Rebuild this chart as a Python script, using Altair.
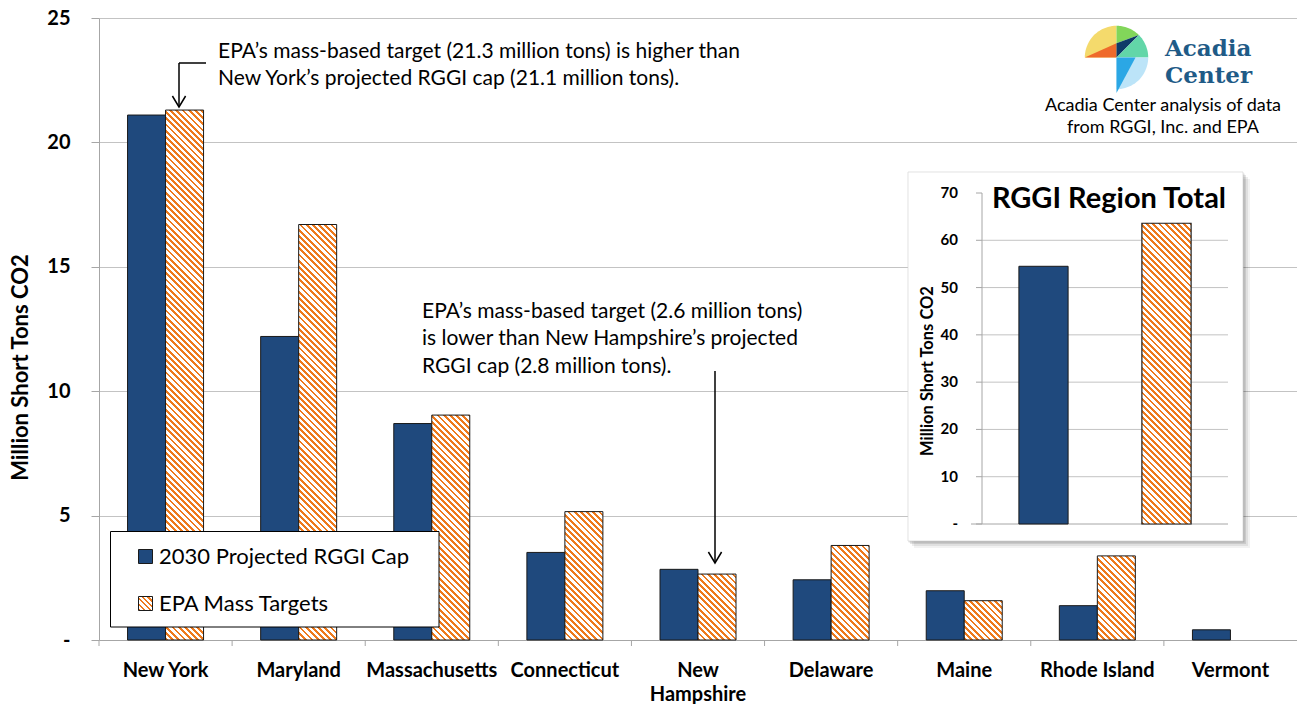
import altair as alt
import numpy as np
import pandas as pd

# ------------------------------------------------------------------ data
states = ["New York", "Maryland", "Massachusetts", "Connecticut", "New Hampshire",
          "Delaware", "Maine", "Rhode Island", "Vermont"]
cap_2030 = [21.1, 12.2, 8.7, 3.52, 2.84, 2.42, 1.98, 1.38, 0.41]
epa_mass = [21.3, 16.7, 9.04, 5.16, 2.65, 3.8, 1.58, 3.38, 0.0]
series = ["2030 Projected RGGI Cap", "EPA Mass Targets"]
region_total = [54.5, 63.6]
main_ticks = [0, 5, 10, 15, 20, 25]
inset_ticks = [0, 10, 20, 30, 40, 50, 60, 70]
inset_labels = ["-", "10", "20", "30", "40", "50", "60", "70"]
ann_ny = ["EPA\u2019s mass-based target (21.3 million tons) is higher than",
          "New York\u2019s projected RGGI cap (21.1 million tons)."]
ann_nh = ["EPA\u2019s mass-based target (2.6 million tons)",
          "is lower than New  Hampshire\u2019s projected",
          "RGGI cap (2.8 million tons)."]
inset_title = "RGGI Region Total"
y_title = "Million Short Tons CO2"
logo_words = ["Acadia", "Center"]
source_lines = ["Acadia Center analysis of data", "from RGGI, Inc. and EPA"]
logo_colors = ["#F4DA6C", "#EF6A2B", "#82D65A", "#0F3A68", "#62D6A8", "#BCE4F8", "#2BA7E5"]

# ------------------------------------------------------------------ layout / style
W, H = 1198, 622
PPU = H / 25.0
BAR_W = 38.0
STEP = W / len(states)
OFF_PAD = (STEP / BAR_W - 2) / 2
FONT = "Lato"
BLUE = "#1F497D"
ORANGE = "#EE7A1C"
GRID = "#C3C3C3"
AXISC = "#A6A6A6"
EDGE = "#1a1a1a"
NBSP = "\u00a0"


def hatch(w, h, period=6.2, frac=0.45):
    """Diagonal (\\) stripes as a linear gradient in bounding-box units."""
    L = w + h
    dx = w * L / (w * w + h * h)
    dy = -h * L / (w * w + h * h)
    stops = []
    k = 0
    while k * period < L:
        a = round(k * period / L, 5)
        b = round(min((k + frac) * period / L, 1.0), 5)
        c = round(min((k + 1) * period / L, 1.0), 5)
        stops += [alt.GradientStop(offset=a, color=ORANGE),
                  alt.GradientStop(offset=b, color=ORANGE),
                  alt.GradientStop(offset=b, color="white"),
                  alt.GradientStop(offset=c, color="white")]
        k += 1
    return alt.LinearGradient(gradient="linear", stops=stops,
                              x1=0, y1=1, x2=round(dx, 5), y2=round(1 + dy, 5))


df = pd.DataFrame({
    "state": states * 2,
    "series": [series[0]] * len(states) + [series[1]] * len(states),
    "value": cap_2030 + epa_mass,
})
one = pd.DataFrame({"k": [0]})

x_scale = alt.Scale(domain=states, paddingInner=0, paddingOuter=0)
x_axis = alt.Axis(
    title=None, labelAngle=0, labelFont=FONT, labelFontSize=20, labelFontWeight="bold",
    labelColor="black", labelPadding=20, labelLineHeight=24, labelOverlap=False,
    labelLimit=300, ticks=False, tickSize=0, domainColor=AXISC, domainWidth=1, grid=False,
    labelExpr="datum.label == 'New Hampshire' ? ['New', 'Hampshire'] : datum.label",
)
y_axis = alt.Axis(
    values=main_ticks,
    labelExpr="datum.value == 0 ? '-" + NBSP * 3 + "' : datum.label",
    labelFont=FONT, labelFontSize=20, labelFontWeight="bold", labelColor="black",
    labelPadding=21, tickSize=8, tickColor=AXISC, domainColor=AXISC,
    grid=True, gridColor=GRID, title=y_title, titleFont=FONT, titleFontSize=22,
    titleFontWeight="bold", titleColor="black", titleX=-79, titleY=349,
    titleAngle=270, titleAlign="center", titleBaseline="middle",
)
y_scale = alt.Scale(domain=[0, 25], nice=False, zero=True)
xo = alt.XOffset("series:N", scale=alt.Scale(domain=series, paddingInner=0, paddingOuter=OFF_PAD))


def xenc(**kw):
    return alt.X("state:N", scale=x_scale, axis=x_axis, **kw)


yenc = alt.Y("value:Q", scale=y_scale, axis=y_axis)

main_layers = []
main_layers.append(
    alt.Chart(df).transform_filter(alt.datum.series == series[0])
    .mark_bar(fill=BLUE, stroke=EDGE, strokeWidth=1)
    .encode(x=xenc(), xOffset=xo, y=yenc)
)
# category boundary ticks
main_layers.append(
    alt.Chart(pd.DataFrame({"state": states})).mark_rule(color=AXISC, strokeWidth=1)
    .encode(x=xenc(bandPosition=0), y=alt.value(H), y2=alt.value(H + 6))
)
for st, v in zip(states, epa_mass):
    if v <= 0:
        continue
    main_layers.append(
        alt.Chart(df)
        .transform_filter((alt.datum.series == series[1]) & (alt.datum.state == st))
        .mark_bar(fill=hatch(BAR_W, v * PPU), stroke=EDGE, strokeWidth=1)
        .encode(x=xenc(), xOffset=xo, y=yenc)
    )

# annotations
main_layers.append(
    alt.Chart(one).mark_text(align="left", baseline="alphabetic", font=FONT, fontSize=21,
                             color="black", lineHeight=27)
    .encode(x=alt.value(119), y=alt.value(39.5), text=alt.value(ann_ny))
)
main_layers.append(
    alt.Chart(one).mark_text(align="left", baseline="alphabetic", font=FONT, fontSize=21,
                             color="black", lineHeight=27.5)
    .encode(x=alt.value(323), y=alt.value(299.5), text=alt.value(ann_nh))
)
arrow = dict(color="black", strokeWidth=1.5)
main_layers += [
    alt.Chart(one).mark_rule(**arrow).encode(x=alt.value(80), x2=alt.value(107), y=alt.value(45)),
    alt.Chart(one).mark_rule(**arrow).encode(x=alt.value(80), y=alt.value(45), y2=alt.value(88)),
    alt.Chart(one).mark_rule(**arrow).encode(x=alt.value(616), y=alt.value(353), y2=alt.value(544)),
]
head = "M-0.6,-1L0,0L0.6,-1"
for hx, hy in [(80, 89), (616, 545)]:
    main_layers.append(
        alt.Chart(one).mark_point(shape=head, filled=False, stroke="black", strokeWidth=1.5,
                                  opacity=1, size=484)
        .encode(x=alt.value(hx), y=alt.value(hy))
    )

# legend
main_layers += [
    alt.Chart(one).mark_rect(fill="white", stroke="black", strokeWidth=1)
    .encode(x=alt.value(11.5), x2=alt.value(340), y=alt.value(513.5), y2=alt.value(609)),
    alt.Chart(one).mark_point(shape="square", filled=True, fill=BLUE, stroke=EDGE,
                              strokeWidth=1, opacity=1, size=196)
    .encode(x=alt.value(46.5), y=alt.value(538.5)),
    alt.Chart(one).mark_point(shape="square", filled=True, fill=hatch(14, 14, period=5.5),
                              stroke=EDGE, strokeWidth=1, opacity=1, size=196)
    .encode(x=alt.value(46.5), y=alt.value(585.5)),
    alt.Chart(one).mark_text(align="left", baseline="middle", font=FONT, fontSize=22, color="black")
    .encode(x=alt.value(60), y=alt.value(538.5), text=alt.value(series[0])),
    alt.Chart(one).mark_text(align="left", baseline="middle", font=FONT, fontSize=22, color="black")
    .encode(x=alt.value(60), y=alt.value(585.5), text=alt.value(series[1])),
]

# logo
def arc_pts(a0, a1, n=24):
    t = np.radians(np.linspace(a0, a1, n))
    return list(zip(np.cos(t), np.sin(t)))


def to_path(pts):
    return "M" + "L".join(f"{x:.3f},{y:.3f}" for x, y in pts) + "Z"


c45 = np.cos(np.radians(45))
logo_shapes = [
    [(0, 0)] + arc_pts(180, 270),
    [(-1, 0), (0, 0), (0, -0.45)],
    arc_pts(270, 315) + [(0, -0.45)],
    [(0, -0.45), (c45, -c45), (0, 0)],
    [(0, 0)] + arc_pts(315, 360),
    [(0, 0)] + arc_pts(0, 90),
    [(0, 0), (0.6, 0), (0, 1.12)],
]
logo_df = pd.DataFrame({"p": [to_path(s) for s in logo_shapes], "c": logo_colors,
                        "o": list(range(len(logo_shapes)))})
main_layers.append(
    alt.Chart(logo_df).mark_point(filled=True, opacity=1, strokeWidth=0)
    .encode(x=alt.value(1017.5), y=alt.value(39.5),
            shape=alt.Shape("p:N", scale=None, legend=None),
            color=alt.Color("c:N", scale=None, legend=None),
            order=alt.Order("o:Q"), size=alt.value(4020))
)
main_layers.append(
    alt.Chart(one).mark_text(align="left", baseline="alphabetic", font="DejaVu Serif",
                             fontSize=23, fontWeight="bold", color="#1F5B87", lineHeight=27.5)
    .encode(x=alt.value(1066), y=alt.value(37.5), text=alt.value(logo_words))
)
main_layers.append(
    alt.Chart(one).mark_text(align="center", baseline="alphabetic", font=FONT, fontSize=18,
                             color="black", lineHeight=22)
    .encode(x=alt.value(1064), y=alt.value(93), text=alt.value(source_lines))
)

main = alt.layer(*main_layers)

# ------------------------------------------------------------------ inset
ix = alt.X("series:N", scale=alt.Scale(domain=series, range=[883, 1129],
                                       paddingInner=0.6, paddingOuter=0.3), axis=None)
iy_scale = alt.Scale(domain=[0, 70], range=[506, 175], nice=False, zero=True)
inset_df = pd.DataFrame({"series": series, "value": region_total})
ticks_df = pd.DataFrame({"tick": inset_ticks, "label": inset_labels})
BX0, BX1, BY0, BY1 = 809, 1144, 154, 523

inset_layers = []
for off, op in [(7, 0.05), (5, 0.07), (3, 0.10), (1.5, 0.12)]:
    inset_layers.append(
        alt.Chart(one).mark_rect(fill="black", opacity=op)
        .encode(x=alt.value(BX0 + off - 1), x2=alt.value(BX1 + off),
                y=alt.value(BY0 + off), y2=alt.value(BY1 + off))
    )
inset_layers.append(
    alt.Chart(one).mark_rect(fill="white", stroke="#D6D6D6", strokeWidth=0.7)
    .encode(x=alt.value(BX0), x2=alt.value(BX1), y=alt.value(BY0), y2=alt.value(BY1))
)
inset_layers.append(
    alt.Chart(ticks_df).transform_filter("datum.tick > 0 && datum.tick < 70")
    .mark_rule(color=GRID, strokeWidth=1)
    .encode(y=alt.Y("tick:Q", scale=iy_scale, axis=None), x=alt.value(883), x2=alt.value(1129))
)
inset_layers.append(
    alt.Chart(ticks_df).transform_filter("datum.tick == 0")
    .mark_rule(color=AXISC, strokeWidth=1)
    .encode(y=alt.Y("tick:Q", scale=iy_scale, axis=None), x=alt.value(872), x2=alt.value(1129))
)
inset_layers.append(
    alt.Chart(ticks_df).mark_rule(color=AXISC, strokeWidth=1)
    .encode(y=alt.Y("tick:Q", scale=iy_scale, axis=None), x=alt.value(877), x2=alt.value(883))
)
inset_layers.append(
    alt.Chart(pd.DataFrame({"lo": [0], "hi": [70]})).mark_rule(color=AXISC, strokeWidth=1)
    .encode(y=alt.Y("lo:Q", scale=iy_scale, axis=None), y2="hi:Q", x=alt.value(883))
)
inset_layers.append(
    alt.Chart(ticks_df)
    .transform_calculate(lab="datum.tick == 0 ? '-" + NBSP * 2 + "' : datum.label")
    .mark_text(align="right", baseline="middle", font=FONT, fontSize=15, fontWeight="bold",
               color="black")
    .encode(y=alt.Y("tick:Q", scale=iy_scale, axis=None), x=alt.value(859), text="lab:N")
)
inset_layers.append(
    alt.Chart(inset_df).transform_filter(alt.datum.series == series[0])
    .mark_bar(fill=BLUE, stroke=EDGE, strokeWidth=1)
    .encode(x=ix, y=alt.Y("value:Q", scale=iy_scale, axis=None))
)
inset_layers.append(
    alt.Chart(inset_df).transform_filter(alt.datum.series == series[1])
    .mark_bar(fill=hatch(49.2, region_total[1] * 331 / 70), stroke=EDGE, strokeWidth=1.2)
    .encode(x=ix, y=alt.Y("value:Q", scale=iy_scale, axis=None))
)
inset_layers.append(
    alt.Chart(one).mark_text(align="center", baseline="middle", font=FONT, fontSize=29,
                             fontWeight="bold", color="black")
    .encode(x=alt.value(1010), y=alt.value(181), text=alt.value(inset_title))
)
inset_layers.append(
    alt.Chart(one).mark_text(align="center", baseline="middle", font=FONT, fontSize=16.5,
                             fontWeight="bold", color="black", angle=270)
    .encode(x=alt.value(829), y=alt.value(353), text=alt.value(y_title))
)
inset = alt.layer(*inset_layers)

chart = (
    alt.layer(main, inset)
    .resolve_scale(x="independent", y="independent")
    .properties(width=W, height=H, autosize=alt.AutoSizeParams(type="none"),
                padding={"left": 99, "top": 18, "right": 0, "bottom": 64},
                background="white")
    .configure(font=FONT)
    .configure_view(stroke=None)
)
chart.save("out.html", embed_options={"renderer": "svg", "actions": False})
